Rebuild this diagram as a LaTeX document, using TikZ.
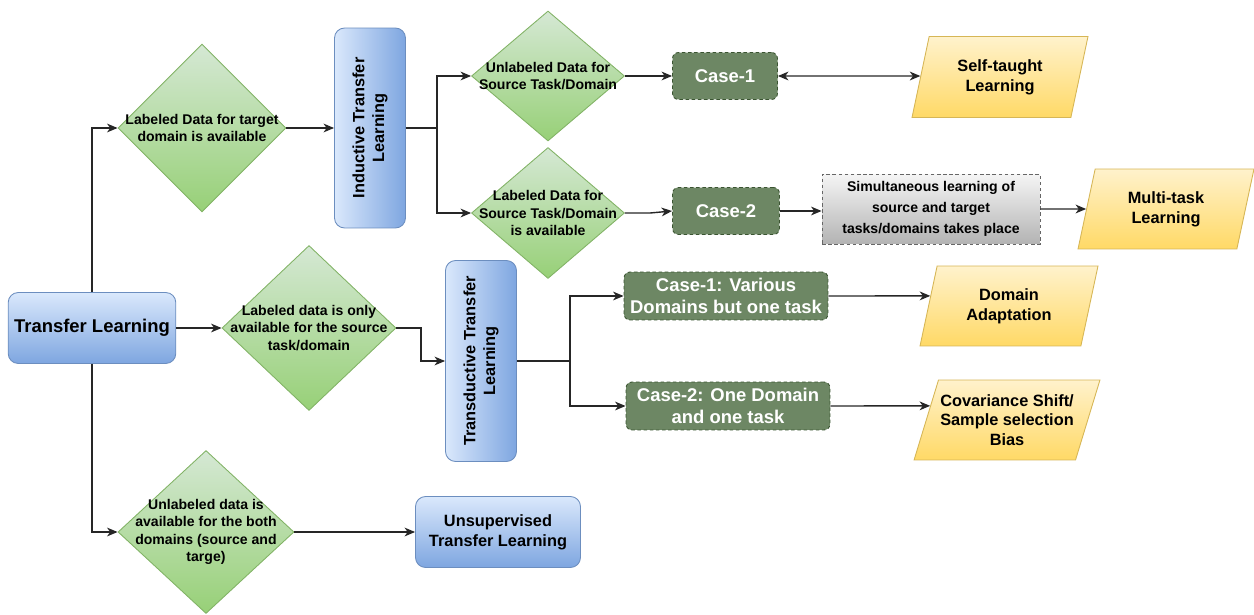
\documentclass[tikz,border=0pt]{standalone}
\usepackage{fontspec}
\setmainfont{Liberation Sans}
\usetikzlibrary{shapes.geometric,arrows.meta,calc}
\definecolor{gtop}{HTML}{D5E8D4}
\definecolor{gbot}{HTML}{97D077}
\definecolor{gborder}{HTML}{82B366}
\definecolor{btop}{HTML}{DAE8FC}
\definecolor{bbot}{HTML}{7EA6E0}
\definecolor{bborder}{HTML}{6C8EBF}
\definecolor{cfill}{HTML}{6D8764}
\definecolor{cborder}{HTML}{3A5431}
\definecolor{ytop}{HTML}{FFF2CC}
\definecolor{ybot}{HTML}{FFD966}
\definecolor{yborder}{HTML}{D6B656}
\definecolor{stop}{HTML}{F5F5F5}
\definecolor{sbot}{HTML}{B3B3B3}
\definecolor{sborder}{HTML}{666666}
\tikzset{
 conn/.style={line width=0.8pt, draw=black!85},
 arr/.style={conn, -{Stealth[length=6pt,width=5pt,inset=1.8pt]}},
 darr/.style={conn, {Stealth[length=6pt,width=5pt,inset=1.8pt]}-{Stealth[length=6pt,width=5pt,inset=1.8pt]}},
 dia/.style={diamond, draw=gborder, line width=0.5pt, top color=gtop, bottom color=gbot, inner sep=0pt},
 dtext/.style={font=\fontsize{8}{9.8}\selectfont\bfseries, align=center},
 bbox/.style={rectangle, rounded corners=0.2cm, draw=bborder, line width=0.5pt},
 btext/.style={font=\fontsize{9.3}{11.2}\selectfont\bfseries, align=center},
 cbox/.style={rectangle, rounded corners=0.12cm, draw=cborder, dash pattern=on 2pt off 1.5pt, fill=cfill, text=white, font=\fontsize{10.5}{12.6}\selectfont\bfseries, align=center, inner sep=1pt, line width=0.5pt},
 para/.style={trapezium, trapezium left angle=66, trapezium right angle=114, trapezium stretches body, draw=yborder, top color=ytop, bottom color=ybot, font=\fontsize{9.3}{11.2}\selectfont\bfseries, align=center, inner sep=1pt, line width=0.5pt},
 gbox/.style={rectangle, draw=sborder, dash pattern=on 2pt off 1.5pt, top color=stop, bottom color=sbot, font=\fontsize{8}{12}\selectfont\bfseries, align=center, inner sep=1pt, line width=0.5pt},
}
\begin{document}
\begin{tikzpicture}[x=0.02cm,y=-0.02cm]
\useasboundingbox (0,0) rectangle (1254,615);

% main node
\node[bbox, top color=btop, bottom color=bbot, minimum width=3.3cm, minimum height=1.42cm, font=\fontsize{10.5}{12.6}\selectfont\bfseries] (tl) at (92,328) {Transfer Learning};

% decision diamonds
\node[dia, minimum width=3.36cm, minimum height=3.36cm, label={[dtext]center:{Labeled Data for target\\domain is available}}] (d1) at (202,128) {};
\node[dia, minimum width=3.48cm, minimum height=3.3cm, label={[dtext]center:{Labeled data is only\\available for the source\\task/domain}}] (d2) at (309,328) {};
\node[dia, minimum width=3.52cm, minimum height=3.26cm, label={[dtext]center:{Unlabeled data is\\available for the both\\domains (source and\\targe)}}] (d4) at (206,532) {};
\node[dia, minimum width=3.06cm, minimum height=2.6cm, label={[dtext]center:{Unlabeled Data for\\Source Task/Domain}}] (d3a) at (548,76) {};
\node[dia, minimum width=3.06cm, minimum height=2.62cm, label={[dtext]center:{Labeled Data for\\Source Task/Domain\\is available}}] (d3b) at (548,213) {};

% vertical blue boxes
\node[bbox, left color=btop, right color=bbot, minimum width=1.42cm, minimum height=4cm] (ind) at (370,128) {};
\node[btext, rotate=90] (indt) at (ind.center) {Inductive Transfer\\Learning};
\node[bbox, left color=btop, right color=bbot, minimum width=1.42cm, minimum height=4.02cm] (trans) at (481,361) {};
\node[btext, rotate=90] (transt) at (trans.center) {Transductive Transfer\\Learning};

% unsupervised
\node[bbox, top color=btop, bottom color=bbot, minimum width=3.3cm, minimum height=1.42cm, btext] (uns) at (498,532) {Unsupervised\\Transfer Learning};

% cases
\node[cbox, minimum width=2.1cm, minimum height=0.94cm] (case1) at (725,76) {Case-1};
\node[cbox, minimum width=2.14cm, minimum height=0.94cm] (case2) at (726,211) {Case-2};
\node[cbox, minimum width=4.08cm, minimum height=0.96cm] (c1v) at (726,296) {Case-1: Various\\Domains but one task};
\node[cbox, minimum width=4.08cm, minimum height=0.96cm] (c2o) at (728,406) {Case-2: One Domain\\and one task};

% gray box
\node[gbox, minimum width=4.36cm, minimum height=1.4cm] (sim) at (931,209) {Simultaneous learning of\\source and target\\tasks/domains takes place};

% parallelograms
\node[para, minimum width=3.52cm, minimum height=1.62cm] (self) at (1000,77) {Self-taught\\Learning};
\node[para, minimum width=3.52cm, minimum height=1.6cm] (multi) at (1166,209) {Multi-task\\Learning};
\node[para, minimum width=3.56cm, minimum height=1.6cm] (da) at (1009,306) {Domain\\Adaptation};
\node[para, minimum width=3.6cm, minimum height=1.6cm] (cov) at (1007,420) {Covariance Shift/\\Sample selection\\Bias};

% branch points
\coordinate (b1) at (437,128);
\coordinate (k2) at (421,345);
\coordinate (b3) at (570,361);
\coordinate (k3) at (650,213);

% connectors
\draw[arr] (tl.north) |- (d1.west);
\draw[arr] (tl.south) |- (d4.west);
\draw[arr] (tl.east) -- (d2.west);
\draw[arr] (d1.east) -- (ind.west);
\draw[conn] (ind.east) -- (b1);
\draw[arr] (b1) |- (d3a.west);
\draw[arr] (b1) |- (d3b.west);
\draw[arr] (d3a.east) -- (case1.west);
\draw[arr] (d3b.east) -- (k3) -- (case2.west);
\draw[darr] (case1.east) -- ($(self.top left corner)!0.488!(self.bottom left corner)$);
\draw[arr] (case2.east) -- (case2.east -| sim.west);
\draw[arr] (sim.east) -- (multi.west);
\draw[arr] (d2.east) -| (k2) |- (trans.west);
\draw[conn] (trans.east) -- (b3);
\draw[arr] (b3) |- (c1v.west);
\draw[arr] (b3) |- (c2o.west);
\draw[arr] (c1v.east) -- ($(da.top left corner)!0.375!(da.bottom left corner)$);
\draw[arr] (c2o.east) -- ($(cov.top left corner)!0.325!(cov.bottom left corner)$);
\draw[arr] (d4.east) -- (uns.west);
\end{tikzpicture}
\end{document}
